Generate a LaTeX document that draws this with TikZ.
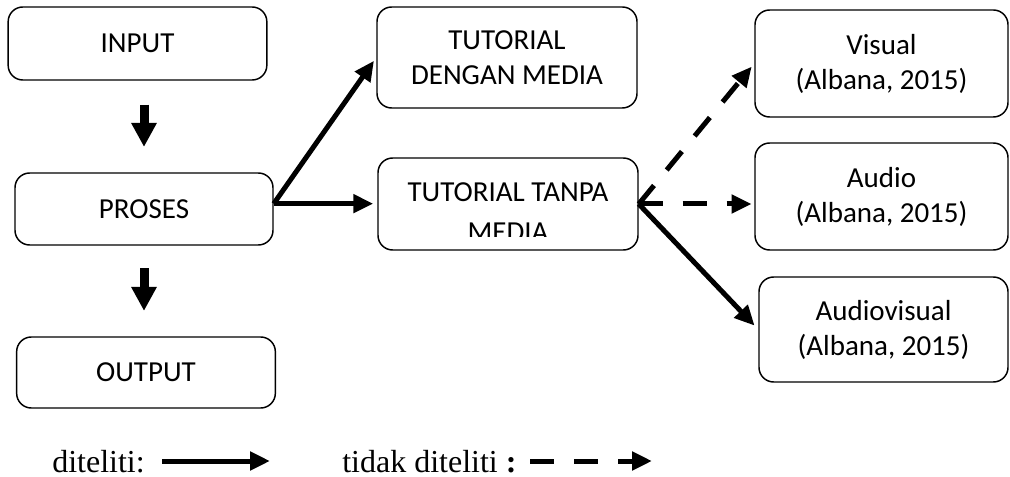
\documentclass[tikz,border=0pt]{standalone}
\usepackage{fontspec}
\setmainfont{Liberation Serif}
\newfontfamily\calibri{Carlito}
\usetikzlibrary{arrows.meta}

\begin{document}
\begin{tikzpicture}[x=0.75pt, y=-0.75pt,
         box/.style={draw, line width=1.1pt, rounded corners=11pt, inner sep=0pt,
                     align=center, font=\calibri\fontsize{21.75}{26.25}\selectfont},
         boxtext/.style={inner sep=0pt, align=center,
                     font=\calibri\fontsize{21.75}{30}\selectfont},
         keytext/.style={inner sep=0pt, font=\fontsize{24}{28}\selectfont},
         flow/.style={line width=3.75pt, -{Triangle[length=15pt, width=13.5pt]}},
         dflow/.style={flow, dash pattern=on 18pt off 15pt},
         down/.style={line width=6.75pt, -{Triangle[length=18pt, width=18pt]}}]
         \useasboundingbox (0, 0) rectangle (1010, 477);
         % left column
         \node [box, minimum width=194pt, minimum height=54.75pt] (IN) at (137.5, 43.5) {INPUT};
         \node [box, minimum width=193.5pt, minimum height=54pt] (PR) at (144, 209) {PROSES};
         \node [box, minimum width=194pt, minimum height=53.25pt] (OUT) at (146, 372.5) {OUTPUT};
         % middle column
         \node [box, minimum width=195pt, minimum height=75.75pt] (TD) at (507, 57.5) {TUTORIAL\\DENGAN MEDIA};
         \node [box, minimum width=195pt, minimum height=69pt] (TT) at (508, 204) {};
         \begin{scope}
           \clip (378, 158) rectangle (638, 237);
           \node [boxtext, anchor=north] (TTtext) at (508, 182) {TUTORIAL TANPA\\MEDIA};
         \end{scope}
         % right column
         \node [box, minimum width=189.75pt, minimum height=80.25pt] (VI) at (881.5, 63.5) {Visual\\(Albana, 2015)};
         \node [box, minimum width=189.75pt, minimum height=80.25pt] (AU) at (881.5, 196.5) {Audio\\(Albana, 2015)};
         \node [box, minimum width=186.75pt, minimum height=78.75pt] (AV) at (883.5, 329.5) {Audiovisual\\(Albana, 2015)};
         % arrows
         \draw [down, shorten <=18pt, shorten >=19pt] (PR.north |- IN.south) -- (PR.north);
         \draw [down, shorten <=17pt, shorten >=19pt] (PR.south) -- (PR.south |- OUT.north);
         \coordinate (F1) at ([yshift=4pt]PR.east);
         \draw [flow, shorten >=3pt] (F1) -- (TD.west);
         \draw [flow, shorten >=3pt] (F1) -- (F1 -| TT.west);
         \draw [dflow, shorten >=3pt] (TT.east) -- (VI.west);
         \draw [dflow, shorten >=2pt] (TT.east) -- (TT.east -| AU.west);
         \draw [flow, shorten >=4pt] (TT.east) -- (AV.west);
         % key
         \node [keytext, anchor=base west] (K1) at (52, 472) {diteliti:};
         \coordinate (K1a) at (162, 461);
         \coordinate (K1b) at (270, 461);
         \draw [flow] (K1a) -- (K1b);
         \node [keytext, anchor=base west] (K2) at (342, 472) {tidak diteliti \textbf{:}};
         \coordinate (K2a) at (530, 461);
         \coordinate (K2b) at (652, 461);
         \draw [dflow] (K2a) -- (K2b);
\end{tikzpicture}
\end{document}
